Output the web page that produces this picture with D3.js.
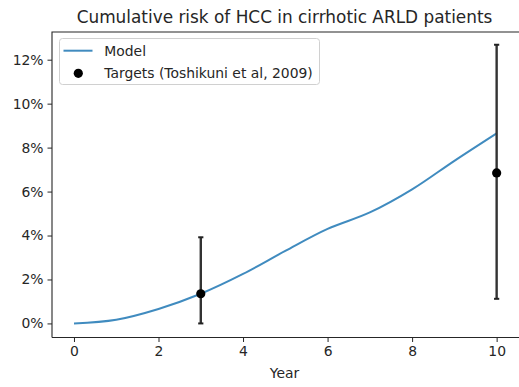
<!DOCTYPE html>
<html><head><meta charset="utf-8">
<script src="https://cdn.jsdelivr.net/npm/d3@7"></script>
<style>body{margin:0;background:#fff}svg{display:block}text{font-family:"DejaVu Sans",sans-serif;fill:#262626}</style>
</head><body><svg id="c" width="519" height="387"></svg>
<script>
const modelYears = [0,1,2,3,4,5,6,7,8,9,10];
const modelRisk  = [0,0.17,0.66,1.35,2.25,3.3,4.3,5.05,6.1,7.4,8.65];
const targetYears = [3,10];
const targetRisk  = [1.35,6.85];
const targetLow   = [0,1.12];
const targetHigh  = [3.92,12.68];
const xTicks = [0,2,4,6,8,10];
const yTicks = [0,2,4,6,8,10,12];
const title = "Cumulative risk of HCC in cirrhotic ARLD patients";
const xLabel = "Year";
const legendLabels = ["Model","Targets (Toshikuni et al, 2009)"];

const svg = d3.select("#c");
const L=52, R=522, T=32, B=337.5;
const x = d3.scaleLinear().domain([-0.52,10.6]).range([L,R]);
const y = d3.scaleLinear().domain([-0.64,13.26]).range([B,T]);
const fs = 13.9;

// axes
const gx = svg.append("g").attr("transform",`translate(0,${B})`)
  .call(d3.axisBottom(x).tickValues(xTicks).tickFormat(d3.format("d")).tickSizeOuter(0).tickSize(4.5).tickPadding(4));
const gy = svg.append("g").attr("transform",`translate(${L},0)`)
  .call(d3.axisLeft(y).tickValues(yTicks).tickFormat(d=>d+"%").tickSizeOuter(0).tickSize(4.5).tickPadding(4));
[gx,gy].forEach(g=>{
  g.select(".domain").remove();
  g.selectAll(".tick line").attr("stroke","#262626").attr("stroke-width",1);
  g.selectAll(".tick text").attr("font-size",fs).attr("fill","#262626").attr("font-family","DejaVu Sans");
});
// spines (right spine falls outside the picture)
svg.append("path").attr("d",`M${L},${B}V${T}H${R}M${L},${B}H${R}`)
  .attr("fill","none").attr("stroke","#262626").attr("stroke-width",1.1);

// model line
const line = d3.line().x((d,i)=>x(modelYears[i])).y(d=>y(d)).curve(d3.curveCatmullRom.alpha(0.5));
svg.append("path").datum(modelRisk).attr("d",line).attr("fill","none")
  .attr("stroke","#1f77b4").attr("stroke-opacity",0.85).attr("stroke-width",2);

// error bars
const eb = svg.append("g");
targetYears.forEach((yr,i)=>{
  const cx = x(yr);
  eb.append("line").attr("x1",cx).attr("x2",cx).attr("y1",y(targetLow[i])).attr("y2",y(targetHigh[i]))
    .attr("stroke","#333").attr("stroke-width",2.4);
  [targetLow[i],targetHigh[i]].forEach(v=>{
    eb.append("line").attr("x1",cx-2.6).attr("x2",cx+2.6).attr("y1",y(v)).attr("y2",y(v))
      .attr("stroke","#222").attr("stroke-width",2);
  });
  eb.append("circle").attr("cx",cx).attr("cy",y(targetRisk[i])).attr("r",4.6).attr("fill","#000");
});

// title & label
svg.append("text").attr("x",(L+517)/2).attr("y",23).attr("text-anchor","middle")
  .attr("font-size",16.9).text(title);
svg.append("text").attr("x",(L+517)/2).attr("y",378).attr("text-anchor","middle")
  .attr("font-size",fs).text(xLabel);

// legend
const lg = svg.append("g");
lg.append("rect").attr("x",59.5).attr("y",38.5).attr("width",260).attr("height",46).attr("rx",3)
  .attr("fill","#fff").attr("fill-opacity",0.8).attr("stroke","#d0d0d0").attr("stroke-width",1);
lg.append("line").attr("x1",63.5).attr("x2",92.5).attr("y1",50.7).attr("y2",50.7)
  .attr("stroke","#1f77b4").attr("stroke-opacity",0.85).attr("stroke-width",2);
lg.append("circle").attr("cx",78.3).attr("cy",73.3).attr("r",4.6).attr("fill","#000");
lg.selectAll("text.l").data(legendLabels).join("text").attr("class","l")
  .attr("x",104.3).attr("y",(d,i)=>[50.7,73.3][i]).attr("dy","0.35em").attr("font-size",fs).text(d=>d);
</script></body></html>
